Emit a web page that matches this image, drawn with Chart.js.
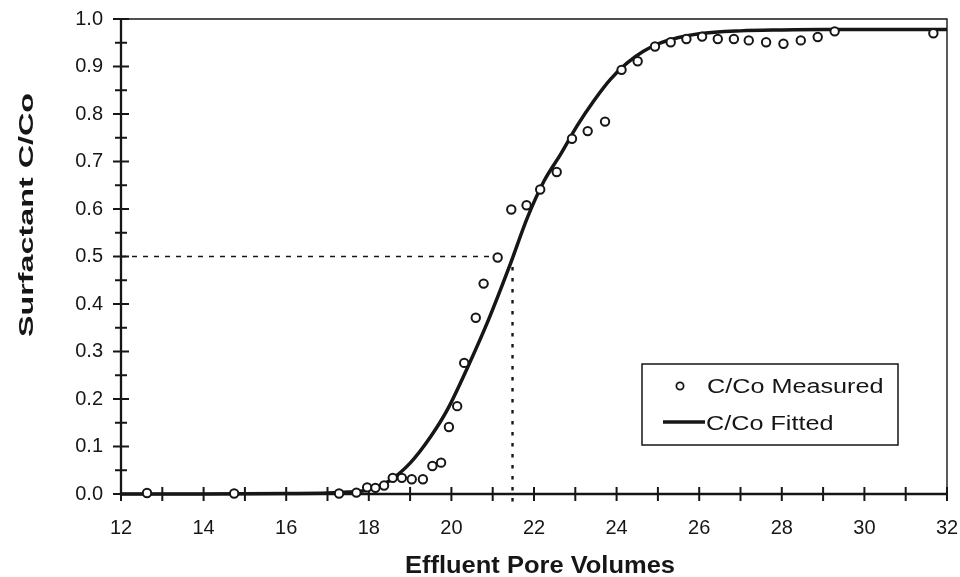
<!DOCTYPE html>
<html>
<head>
<meta charset="utf-8">
<script src="https://cdn.jsdelivr.net/npm/chart.js@4.4.1/dist/chart.umd.min.js"></script>
<style>
html,body{margin:0;padding:0;background:#fff;}
#wrap{width:960px;height:577px;}
</style>
</head>
<body>
<div id="wrap"><canvas id="c" width="960" height="577"></canvas></div>
<script>
// ---- data ----
const measuredX = [12.63, 14.74, 17.28, 17.70, 17.96, 18.16, 18.37, 18.58, 18.80, 19.04, 19.31, 19.54, 19.75, 19.94, 20.14, 20.31, 20.59, 20.78, 21.12, 21.45, 21.82, 22.15, 22.55, 22.92, 23.30, 23.72, 24.12, 24.51, 24.93, 25.31, 25.69, 26.07, 26.45, 26.84, 27.20, 27.62, 28.04, 28.46, 28.87, 29.28, 31.67];
const measuredY = [0.002, 0.001, 0.001, 0.003, 0.014, 0.013, 0.018, 0.034, 0.034, 0.031, 0.031, 0.059, 0.066, 0.141, 0.185, 0.276, 0.371, 0.443, 0.498, 0.599, 0.608, 0.641, 0.678, 0.748, 0.764, 0.784, 0.893, 0.911, 0.942, 0.951, 0.958, 0.963, 0.958, 0.958, 0.955, 0.951, 0.948, 0.955, 0.962, 0.974, 0.970];
const fittedX = [12, 14, 16, 17, 17.5, 18, 18.5, 19, 19.5, 19.9, 20.4, 20.9, 21.4, 21.85, 22.25, 22.65, 23.05, 23.45, 23.85, 24.25, 24.65, 25.05, 25.5, 26, 27, 28, 29, 30, 32, 32.15];
const fittedY = [0.0, 0.0, 0.001, 0.002, 0.004, 0.009, 0.028, 0.065, 0.121, 0.177, 0.268, 0.367, 0.478, 0.584, 0.66, 0.716, 0.776, 0.828, 0.873, 0.907, 0.932, 0.949, 0.961, 0.969, 0.975, 0.977, 0.978, 0.978, 0.978, 0.978];
const halfX = 21.48;      // x where fitted C/Co = 0.5
const halfY = 0.5;
const halfGuideEndX = 21.1;
const xTicks = [12, 14, 16, 18, 20, 22, 24, 26, 28, 30, 32];
const yTicks = [0.0, 0.1, 0.2, 0.3, 0.4, 0.5, 0.6, 0.7, 0.8, 0.9, 1.0];
const labels = {measured: 'C/Co Measured', fitted: 'C/Co Fitted', x: 'Effluent Pore Volumes', y: 'Surfactant C/Co'};

const toPts = (xs, ys) => xs.map((x, i) => ({x: x, y: ys[i]}));
const INK = '#161616';

// draws frame, tick marks (both sides of axes), axis titles and legend
const decor = {
  id: 'decor',
  beforeDatasetsDraw(chart) {
    const {ctx, chartArea: a, scales: {x, y}} = chart;
    ctx.save();
    ctx.strokeStyle = INK;
    ctx.lineWidth = 1.4;
    ctx.beginPath();
    ctx.moveTo(a.left, a.top); ctx.lineTo(a.right, a.top); ctx.lineTo(a.right, a.bottom);
    ctx.stroke();
    ctx.lineWidth = 2.3;
    ctx.beginPath();
    ctx.moveTo(a.left, a.top); ctx.lineTo(a.left, a.bottom); ctx.lineTo(a.right + 1, a.bottom);
    ctx.stroke();
    ctx.lineWidth = 2;
    for (let k = 0; k <= 20; k++) {
      const v = y.min + k * 0.05;
      const py = y.getPixelForValue(v);
      const len = (k % 2 === 0) ? 8 : 6;
      ctx.beginPath(); ctx.moveTo(a.left - len, py); ctx.lineTo(a.left + len, py); ctx.stroke();
    }
    for (let v = x.min; v <= x.max + 1e-9; v += 1) {
      const px = x.getPixelForValue(v);
      ctx.beginPath(); ctx.moveTo(px, a.bottom - 7); ctx.lineTo(px, a.bottom + 7); ctx.stroke();
    }
    ctx.restore();
  },
  afterDraw(chart) {
    const {ctx} = chart;
    ctx.save();
    ctx.fillStyle = INK;
    ctx.font = 'bold 23px "Liberation Sans", Arial, sans-serif';
    ctx.textBaseline = 'alphabetic';
    ctx.textAlign = 'center';
    let w = ctx.measureText(labels.x).width;
    ctx.save();
    ctx.translate(540, 573);
    ctx.scale(270 / w, 1);
    ctx.fillText(labels.x, 0, 0);
    ctx.restore();
    ctx.font = 'bold 20px "Liberation Sans", Arial, sans-serif';
    w = ctx.measureText(labels.y).width;
    ctx.save();
    ctx.translate(33, 215);
    ctx.rotate(-Math.PI / 2);
    ctx.scale(244 / w, 1);
    ctx.fillText(labels.y, 0, 0);
    ctx.restore();

    const bx = 642, by = 364, bw = 256, bh = 81;
    ctx.fillStyle = '#fff';
    ctx.fillRect(bx, by, bw, bh);
    ctx.strokeStyle = INK;
    ctx.lineWidth = 1.5;
    ctx.strokeRect(bx, by, bw, bh);
    ctx.beginPath();
    ctx.arc(680, 386, 3.6, 0, Math.PI * 2);
    ctx.lineWidth = 1.8;
    ctx.stroke();
    ctx.beginPath();
    ctx.moveTo(663, 422); ctx.lineTo(705, 422);
    ctx.lineWidth = 3.5;
    ctx.stroke();
    ctx.fillStyle = INK;
    ctx.font = '20px "Liberation Sans", Arial, sans-serif';
    ctx.textAlign = 'left';
    const sx = 1.26;
    ctx.save(); ctx.translate(707, 392.5); ctx.scale(sx, 1); ctx.fillText(chart.data.datasets[0].label, 0, 0); ctx.restore();
    ctx.save(); ctx.translate(706, 430); ctx.scale(sx, 1); ctx.fillText(chart.data.datasets[1].label, 0, 0); ctx.restore();
    ctx.restore();
  }
};

new Chart(document.getElementById('c'), {
  type: 'scatter',
  data: {
    datasets: [
      {
        label: labels.measured,
        data: toPts(measuredX, measuredY),
        pointStyle: 'circle',
        pointRadius: 4.2,
        pointBorderWidth: 2,
        pointBorderColor: INK,
        pointBackgroundColor: '#fff',
        showLine: false,
        clip: false,
        order: 0
      },
      {
        label: labels.fitted,
        type: 'line',
        data: toPts(fittedX, fittedY),
        borderColor: INK,
        borderWidth: 3.5,
        pointRadius: 0,
        fill: false,
        cubicInterpolationMode: 'monotone',
        clip: false,
        order: 1
      },
      {
        label: 'half-h',
        type: 'line',
        data: [{x: 12, y: halfY}, {x: halfGuideEndX, y: halfY}],
        borderColor: INK,
        borderWidth: 1.6,
        borderDash: [5, 6],
        pointRadius: 0,
        fill: false,
        clip: false,
        order: 2
      },
      {
        label: 'half-v',
        type: 'line',
        data: [{x: halfX, y: 0.478}, {x: halfX, y: -0.023}],
        borderColor: INK,
        borderWidth: 2.4,
        borderDash: [3.5, 7.5],
        pointRadius: 0,
        fill: false,
        clip: false,
        order: 2
      }
    ]
  },
  options: {
    responsive: false,
    animation: false,
    devicePixelRatio: 1,
    layout: {padding: {top: 19, right: 13, left: 0, bottom: 0}},
    plugins: {legend: {display: false}, tooltip: {enabled: false}},
    scales: {
      x: {
        type: 'linear',
        min: 12, max: 32,
        afterBuildTicks: s => { s.ticks = xTicks.map(v => ({value: v})); },
        afterFit: s => { s.height = 83; s.paddingLeft = 0; s.paddingRight = 0; },
        grid: {display: false, drawTicks: false},
        border: {display: false},
        ticks: {
          padding: 22,
          color: INK,
          font: {family: '"Liberation Sans", Arial, sans-serif', size: 20},
          callback: v => String(v)
        }
      },
      y: {
        type: 'linear',
        min: 0, max: 1,
        afterBuildTicks: s => { s.ticks = yTicks.map(v => ({value: v})); },
        afterFit: s => { s.width = 121; s.paddingTop = 0; s.paddingBottom = 0; },
        grid: {display: false, drawTicks: false},
        border: {display: false},
        ticks: {
          padding: 18,
          color: INK,
          font: {family: '"Liberation Sans", Arial, sans-serif', size: 20},
          callback: v => Number(v).toFixed(1)
        }
      }
    }
  },
  plugins: [decor]
});
</script>
</body>
</html>
